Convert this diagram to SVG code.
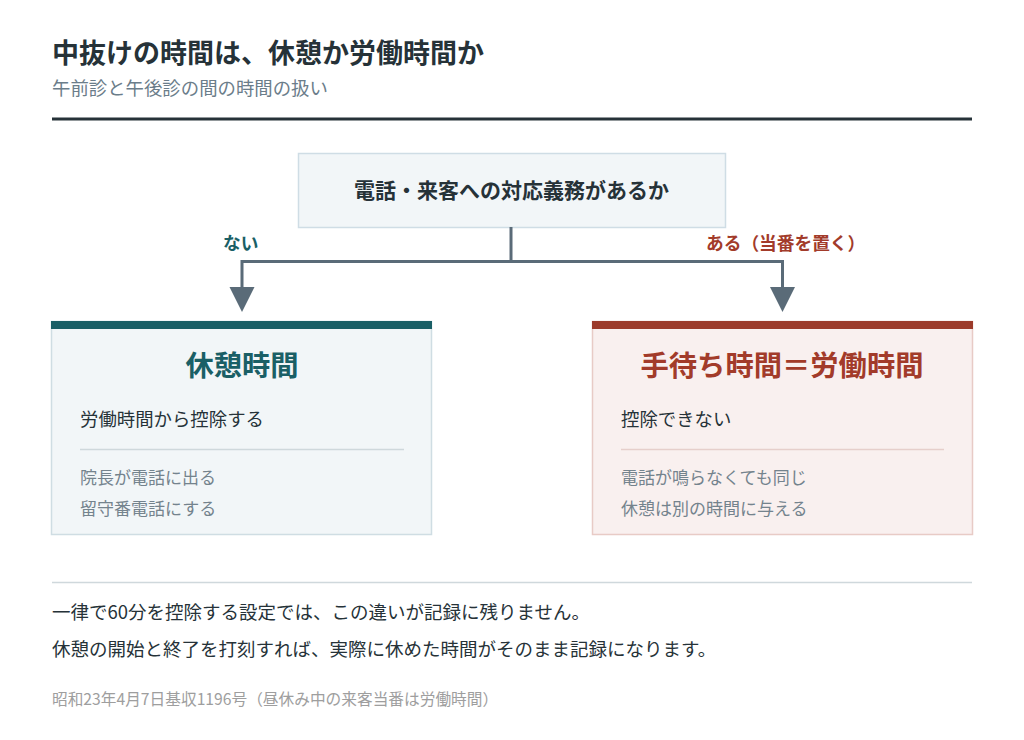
<svg xmlns="http://www.w3.org/2000/svg" width="1024" height="740" viewBox="0 0 1024 740">
<defs>
<style>
text{font-family:"Noto Sans CJK JP","Noto Sans",sans-serif;}
.title{font-size:27px;font-weight:700;fill:#263238;}
.sub{font-size:18.4px;fill:#6b7d8a;}
.q{font-size:21px;font-weight:700;fill:#263238;}
.lbl{font-size:17.7px;font-weight:700;}
.ctitle{font-size:28.3px;font-weight:700;}
.main{font-size:18.4px;fill:#263238;}
.item{font-size:17px;fill:#74838d;}
.body{font-size:18.5px;fill:#263238;}
.note{font-size:15.7px;fill:#9e9e9e;}
.conn{fill:none;stroke:#5a6b78;stroke-width:3;}
</style>
</defs>
<rect width="1024" height="740" fill="#ffffff"/>
<g id="header">
<text class="title" x="52" y="63">中抜けの時間は、休憩か労働時間か</text>
<text class="sub" x="52" y="95">午前診と午後診の間の時間の扱い</text>
<rect x="52" y="117.5" width="920" height="3" fill="#263238"/>
</g>
<g id="question">
<rect x="298.5" y="153.5" width="427" height="74" fill="#f2f6f8" stroke="#cfdde5" stroke-width="1.5"/>
<text class="q" x="511.5" y="198" text-anchor="middle">電話・来客への対応義務があるか</text>
</g>
<g id="connectors">
<polyline class="conn" points="511,227 511,261.5"/>
<polyline class="conn" points="242,288 242,261.5 782.5,261.5 782.5,288"/>
<polygon points="229.5,287 254.5,287 242,312" fill="#5a6b78"/>
<polygon points="770,287 795,287 782.5,312" fill="#5a6b78"/>
<text class="lbl" x="223" y="250" fill="#1a5f66">ない</text>
<text class="lbl" x="706" y="250" fill="#a23b2a">ある（当番を置く）</text>
</g>
<g id="break-time">
<rect x="51.5" y="321.5" width="380" height="213" fill="#f2f6f8" stroke="#cfdde3" stroke-width="1.5"/>
<rect x="51" y="321" width="381" height="8" fill="#1a5f66"/>
<text class="ctitle" x="242" y="376" text-anchor="middle" fill="#1a5f66">休憩時間</text>
<text class="main" x="80" y="426">労働時間から控除する</text>
<line x1="80" y1="449.5" x2="404" y2="449.5" stroke="#cfd8dc" stroke-width="1.5"/>
<text class="item" x="80" y="484">院長が電話に出る</text>
<text class="item" x="80" y="515">留守番電話にする</text>
</g>
<g id="work-time">
<rect x="592.5" y="321.5" width="380" height="213" fill="#f9f0ef" stroke="#e8cbc6" stroke-width="1.5"/>
<rect x="592" y="321" width="381" height="8" fill="#9c3a2a"/>
<text class="ctitle" x="782" y="376" text-anchor="middle" fill="#a23b2a">手待ち時間＝労働時間</text>
<text class="main" x="621" y="426">控除できない</text>
<line x1="621" y1="449.5" x2="944" y2="449.5" stroke="#e6cfcb" stroke-width="1.5"/>
<text class="item" x="621" y="484">電話が鳴らなくても同じ</text>
<text class="item" x="621" y="515">休憩は別の時間に与える</text>
</g>
<g id="footer">
<line x1="52" y1="582.5" x2="972" y2="582.5" stroke="#cfd8dc" stroke-width="1.5"/>
<text class="body" x="52" y="619">一律で60分を控除する設定では、この違いが記録に残りません。</text>
<text class="body" x="52" y="656">休憩の開始と終了を打刻すれば、実際に休めた時間がそのまま記録になります。</text>
<text class="note" x="52" y="705">昭和23年4月7日基収1196号（昼休み中の来客当番は労働時間）</text>
</g>
</svg>
